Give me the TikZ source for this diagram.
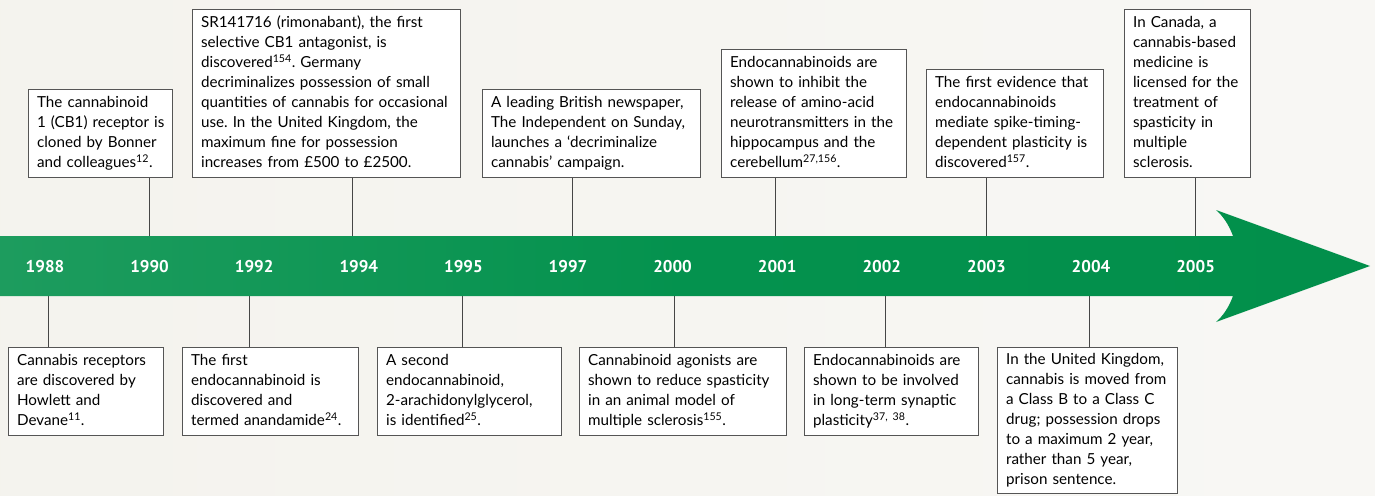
\documentclass[tikz,border=0pt]{standalone}
\usepackage{fontspec}
\setmainfont{Lato}
\newfontfamily\yearfont{PT Sans}
\frenchspacing
\definecolor{bgLeft}{RGB}{242,240,234}
\definecolor{bgRight}{RGB}{250,250,248}
\definecolor{gLeft}{RGB}{54,166,110}
\definecolor{gMid}{RGB}{4,146,78}
\definecolor{gRight}{RGB}{0,140,71}
\definecolor{boxline}{RGB}{85,85,85}
\definecolor{connline}{RGB}{70,70,70}
\pgfdeclarehorizontalshading{bandshade}{100bp}{color(0bp)=(gLeft); color(50bp)=(gMid); color(100bp)=(gRight)}
\pgfdeclarehorizontalshading{bgshade}{100bp}{color(0bp)=(bgLeft); color(100bp)=(bgRight)}
\newcommand\evlines[1]{\begin{tabular}{@{}l@{}}#1\end{tabular}}
\tikzset{
  ev/.style={draw=boxline, line width=1.2pt, fill=white,
    inner xsep=8.5pt, inner ysep=0pt, font=\fontsize{15.2}{20}\selectfont},
  topbox/.style={ev, anchor=south west},
  botbox/.style={ev, anchor=north west},
  conn/.style={draw=connline, line width=1pt},
  year/.style={text=white, font=\yearfont\bfseries\fontsize{17}{20}\selectfont, inner sep=0pt}
}
\begin{document}
\begin{tikzpicture}[x=1pt,y=-1pt]
\useasboundingbox (0,0) rectangle (1375,495);
\shade[shading=bgshade] (0,0) rectangle (1375,495);

% top boxes
\node[topbox, text width=127pt, minimum height=88pt] (b1990) at (28,178)
  {\evlines{The cannabinoid\\1 (CB1) receptor is\\cloned by Bonner\\and colleagues\textsuperscript{12}.}};
\node[topbox, text width=251pt, minimum height=168pt] (b1994) at (192,178)
  {\evlines{SR141716 (rimonabant), the first\\selective CB1 antagonist, is\\discovered\textsuperscript{154}. Germany\\decriminalizes possession of small\\quantities of cannabis for occasional\\use. In the United Kingdom, the\\maximum fine for possession\\increases from £500 to £2500.}};
\node[topbox, text width=201pt, minimum height=88pt] (b1997) at (482,178)
  {\evlines{A leading British newspaper,\\The Independent on Sunday,\\launches a ‘decriminalize\\cannabis’ campaign.}};
\node[topbox, text width=168pt, minimum height=128pt] (b2001) at (721,178)
  {\evlines{Endocannabinoids are\\shown to inhibit the\\release of amino-acid\\neurotransmitters in the\\hippocampus and the\\cerebellum\textsuperscript{27,156}.}};
\node[topbox, text width=160pt, minimum height=108pt] (b2003) at (926,178)
  {\evlines{The first evidence that\\endocannabinoids\\mediate spike-timing-\\dependent plasticity is\\discovered\textsuperscript{157}.}};
\node[topbox, text width=109pt, minimum height=168pt] (b2005) at (1124,178)
  {\evlines{In Canada, a\\cannabis-based\\medicine is\\licensed for the\\treatment of\\spasticity in\\multiple\\sclerosis.}};

% bottom boxes
\node[botbox, text width=138pt, minimum height=88pt] (b1988) at (8,347)
  {\evlines{Cannabis receptors\\are discovered by\\Howlett and\\Devane\textsuperscript{11}.}};
\node[botbox, text width=159pt, minimum height=88pt] (b1992) at (182,347)
  {\evlines{The first\\endocannabinoid is\\discovered and\\termed anandamide\textsuperscript{24}.}};
\node[botbox, text width=167pt, minimum height=88pt] (b1995) at (377,347)
  {\evlines{A second\\endocannabinoid,\\2-arachidonylglycerol,\\is identified\textsuperscript{25}.}};
\node[botbox, text width=190pt, minimum height=88pt] (b2000) at (579,347)
  {\evlines{Cannabinoid agonists are\\shown to reduce spasticity\\in an animal model of\\multiple sclerosis\textsuperscript{155}.}};
\node[botbox, text width=157pt, minimum height=88pt] (b2002) at (804,347)
  {\evlines{Endocannabinoids are\\shown to be involved\\in long-term synaptic\\plasticity\textsuperscript{37, 38}.}};
\node[botbox, text width=163pt, minimum height=146pt] (b2004) at (997,347)
  {\evlines{In the United Kingdom,\\cannabis is moved from\\a Class B to a Class C\\drug; possession drops\\to a maximum 2 year,\\rather than 5 year,\\prison sentence.}};

% connector end points on the band
\coordinate (c1990) at (149,236);
\coordinate (c1994) at (352,236);
\coordinate (c1997) at (572,236);
\coordinate (c2001) at (775,236);
\coordinate (c2003) at (986,236);
\coordinate (c2005) at (1195,236);
\coordinate (c1988) at (48,296);
\coordinate (c1992) at (249,296);
\coordinate (c1995) at (462,296);
\coordinate (c2000) at (674,296);
\coordinate (c2002) at (885,296);
\coordinate (c2004) at (1089,296);

\foreach \y in {1990,1994,1997,2001,2003,2005}
  \draw[conn] (b\y.south -| c\y) -- (c\y);
\foreach \y in {1988,1992,1995,2000,2002,2004}
  \draw[conn] (b\y.north -| c\y) -- (c\y);

% band arrow
\shade[shading=bandshade] (0,236) -- (1233,236)
  .. controls (1229,225) and (1223,216) .. (1216,210) -- (1370,266) -- (1216,322)
  .. controls (1223,316) and (1229,307) .. (1233,296) -- (0,296) -- cycle;

% years
\foreach \yr [count=\i from 0] in {1988,1990,1992,1994,1995,1997,2000,2001,2002,2003,2004,2005}
  \node[year] (y\yr) at ({45+104.6*\i},267) {\yr};
\end{tikzpicture}
\end{document}
